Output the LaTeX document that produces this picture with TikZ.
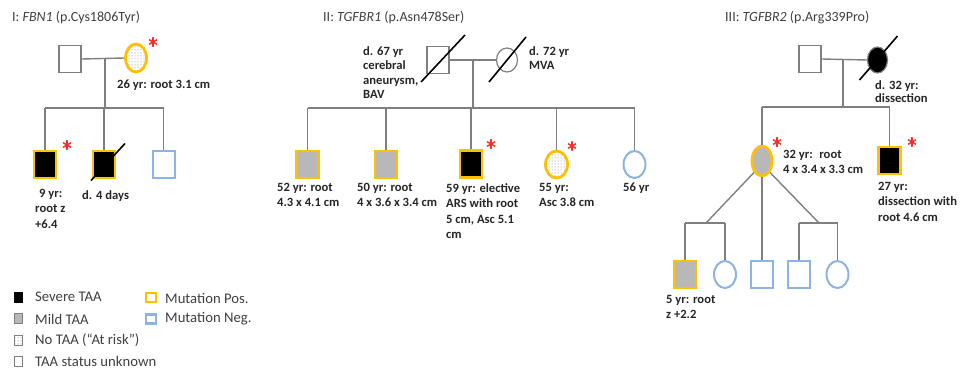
\documentclass[tikz,border=0pt]{standalone}
\usepackage{fontspec}
\setmainfont{Carlito}
\usetikzlibrary{shapes.geometric,patterns,calc}
\definecolor{lgray}{HTML}{7F7F7F}
\definecolor{posc}{HTML}{FFC000}
\definecolor{negc}{HTML}{8DB3E2}
\definecolor{mildc}{HTML}{B8B8B8}
\definecolor{txtc}{HTML}{404040}
\definecolor{starc}{HTML}{FF2A2A}
\tikzset{
  sq/.style={rectangle, draw=lgray, line width=1.2, inner sep=0, minimum width=22, minimum height=27},
  ci/.style={ellipse, draw=lgray, line width=1.2, inner sep=0, minimum width=22, minimum height=27},
  mutpos/.style={draw=posc, line width=2.8},
  mutneg/.style={draw=negc, line width=2},
  severe/.style={fill=black},
  mild/.style={fill=mildc},
  notaa/.style={pattern=dots, pattern color=lgray},
  conn/.style={draw=lgray, line width=1.4},
  dead/.style={draw=black, line width=1.6},
  lbl/.style={font=\bfseries\fontsize{12.6}{15.5}\selectfont, inner sep=0, align=left, text=black!85},
  ttl/.style={font=\fontsize{14}{16}\selectfont, inner sep=0, text=txtc, anchor=west},
  leg/.style={font=\fontsize{14.7}{16}\selectfont, inner sep=0, text=txtc, anchor=west},
  legbox/.style={rectangle, inner sep=0, minimum width=8, minimum height=10, draw=lgray, line width=0.9},
  redstar/.style={circle, inner sep=0, minimum size=10, path picture={
     \draw[starc, line width=1.4] ($(path picture bounding box.center)+(90:5)$) -- ($(path picture bounding box.center)+(270:5)$);
     \draw[starc, line width=1.4] ($(path picture bounding box.center)+(30:5)$) -- ($(path picture bounding box.center)+(210:5)$);
     \draw[starc, line width=1.4] ($(path picture bounding box.center)+(150:5)$) -- ($(path picture bounding box.center)+(330:5)$);
  }}
}
\begin{document}
\begin{tikzpicture}[x=1pt,y=-1pt]
\useasboundingbox[fill=white] (0,0) rectangle (963,374);

% ---------------- Pedigree I ----------------
\node[ttl] (I-t) at (12,18) {I: \textit{FBN1} (p.Cys1806Tyr)};
\node[sq] (I-f) at (70,59) {};
\node[ci, mutpos, notaa, minimum width=21, minimum height=28] (I-m) at (136,58) {};
\node[redstar] (I-ms) at (153,42) {};
\coordinate (I-mid) at (105,59);
\coordinate (I-sib) at (105,108);
\draw[conn] (I-f.east) -- (I-m.west);
\draw[conn] (I-mid) -- (I-sib);
\node[sq, mutpos, severe] (I-c1) at (45,164.5) {};
\node[sq, mutpos, severe] (I-c2) at (104,164.5) {};
\node[sq, mutneg] (I-c3) at (163.5,165) {};
\node[redstar] (I-c1s) at (67,145) {};
\draw[conn] (I-c1 |- I-sib) -- (I-c3 |- I-sib);
\foreach \c in {I-c1,I-c2,I-c3} \draw[conn] (\c.north) -- (\c |- I-sib);
\draw[dead] ($(I-c2)+(-13,16)$) -- ($(I-c2)+(21,-21)$);
\node[lbl, anchor=west] (I-ml) at (117,85) {26 yr: root 3.1 cm};
\node[lbl, anchor=north west] (I-c1l) at (35,189) {\hspace{4pt}9 yr:\\root z\\+6.4};
\node[lbl, anchor=west] (I-c2l) at (82,196) {d. 4 days};

% ---------------- Pedigree II ----------------
\node[ttl] (II-t) at (323,18) {II: \textit{TGFBR1} (p.Asn478Ser)};
\node[sq] (II-f) at (438,60) {};
\node[ci, minimum width=21, minimum height=24] (II-m) at (507,60) {};
\coordinate (II-mid) at (473,60);
\coordinate (II-sib) at (473,108);
\draw[conn] (II-f.east) -- (II-m.west);
\draw[conn] (II-mid) -- (II-sib);
\draw[dead] ($(II-f)+(-17,22)$) -- ($(II-f)+(27,-25)$);
\draw[dead] ($(II-m)+(-18,22)$) -- ($(II-m)+(19,-23)$);
\node[lbl, anchor=north west, font=\bfseries\fontsize{12.6}{14.5}\selectfont] (II-fl) at (363,46) {d. 67 yr\\cerebral\\aneurysm,\\BAV};
\node[lbl, anchor=north west, font=\bfseries\fontsize{12.6}{14.5}\selectfont] (II-ml) at (529,46) {d. 72 yr\\MVA};
\node[sq, mutpos, mild] (II-c1) at (307.5,164.5) {};
\node[sq, mutpos, mild] (II-c2) at (386,164.5) {};
\node[sq, mutpos, severe] (II-c3) at (471,164) {};
\node[ci, mutpos, notaa] (II-c4) at (556.5,164.5) {};
\node[ci, mutneg] (II-c5) at (634.5,164.5) {};
\node[redstar] (II-c3s) at (491,144) {};
\node[redstar] (II-c4s) at (572,146) {};
\draw[conn] (II-c1 |- II-sib) -- (II-c5 |- II-sib);
\foreach \c in {II-c1,II-c2,II-c4,II-c5} \draw[conn] (\c.north) -- (\c |- II-sib);
\draw[conn] (II-c3.north) -- (II-c3.north |- II-sib);
\node[lbl, anchor=north west] (II-c1l) at (277,183) {52 yr: root\\4.3 x 4.1 cm};
\node[lbl, anchor=north west] (II-c2l) at (357,183) {50 yr: root\\4 x 3.6 x 3.4 cm};
\node[lbl, anchor=north west] (II-c3l) at (446,183) {59 yr: elective\\ARS with root\\5 cm, Asc 5.1\\cm};
\node[lbl, anchor=north west] (II-c4l) at (539,183) {55 yr:\\Asc 3.8 cm};
\node[lbl, anchor=north west] (II-c5l) at (623,183) {56 yr};

% ---------------- Pedigree III ----------------
\node[ttl] (III-t) at (725,18) {III: \textit{TGFBR2} (p.Arg339Pro)};
\node[sq] (III-f) at (810,59) {};
\node[ci, severe, minimum width=20, minimum height=26] (III-m) at (877.5,60) {};
\coordinate (III-mid) at (843,59);
\coordinate (III-sib) at (843,107);
\draw[conn] (III-f.east) -- (III-m.west);
\draw[conn] (III-mid) -- (III-sib);
\draw[dead] ($(III-m)+(-18,20)$) -- ($(III-m)+(20,-24)$);
\node[lbl, anchor=north west, font=\bfseries\fontsize{12.6}{13}\selectfont] (III-ml) at (875,80) {d. 32 yr:\\dissection};
\node[ci, mutpos, mild, minimum width=20, minimum height=30] (III-c1) at (762,161) {};
\node[sq, mutpos, severe] (III-c2) at (889.5,160.5) {};
\node[redstar] (III-c1s) at (777,142) {};
\node[redstar] (III-c2s) at (912,142) {};
\draw[conn] (III-c1 |- III-sib) -- (III-c2 |- III-sib);
\draw[conn] (III-c1.north) -- (III-c1 |- III-sib);
\draw[conn] (III-c2.north) -- (III-c2 |- III-sib);
\node[lbl, anchor=north west] (III-c1l) at (783,150) {32 yr:~ root\\4 x 3.4 x 3.3 cm};
\node[lbl, anchor=north west] (III-c2l) at (878,182) {27 yr:\\dissection with\\root 4.6 cm};
% grandchildren
\node[sq, mutpos, mild] (G1) at (685,274.5) {};
\node[ci, mutneg] (G2) at (725,274.5) {};
\node[sq, mutneg] (G3) at (762,274.5) {};
\node[sq, mutneg] (G4) at (799,274.5) {};
\node[ci, mutneg] (G5) at (837.5,274.5) {};
\coordinate (GL) at (706,223);
\coordinate (GR) at (819,223);
\draw[conn] (III-c1.-125) -- (GL);
\draw[conn] (III-c1.-55) -- (GR);
\draw[conn] (G1 |- GL) -- (G2 |- GL);
\draw[conn] (G4 |- GR) -- (G5 |- GR);
\draw[conn] (G1.north) -- (G1 |- GL);
\draw[conn] (G2.north) -- (G2 |- GL);
\draw[conn] (G4.north) -- (G4 |- GR);
\draw[conn] (G5.north) -- (G5 |- GR);
\draw[conn] (III-c1.south) -- (G3.north);
\node[lbl, anchor=north west] (G1l) at (666,295) {5 yr: root\\z +2.2};

% ---------------- Legend ----------------
\node[legbox, fill=black, draw=black] (L1) at (18,297.5) {};
\node[legbox, fill=mildc] (L2) at (18,318.5) {};
\node[legbox, pattern=dots, pattern color=lgray] (L3) at (18,340.5) {};
\node[legbox] (L4) at (18,361) {};
\node[leg] (L1t) at (35,297) {Severe TAA};
\node[leg] (L2t) at (35,319) {Mild TAA};
\node[leg] (L3t) at (35,340) {No TAA (“At risk”)};
\node[leg] (L4t) at (35,361) {TAA status unknown};
\node[legbox, draw=posc, line width=2.4, minimum width=10, minimum height=9] (L5) at (151,297.5) {};
\node[legbox, draw=negc, line width=2.2, minimum width=10, minimum height=9] (L6) at (151,319) {};
\node[leg] (L5t) at (165,298) {Mutation Pos.};
\node[leg] (L6t) at (165,319) {Mutation Neg.};
\end{tikzpicture}
\end{document}
